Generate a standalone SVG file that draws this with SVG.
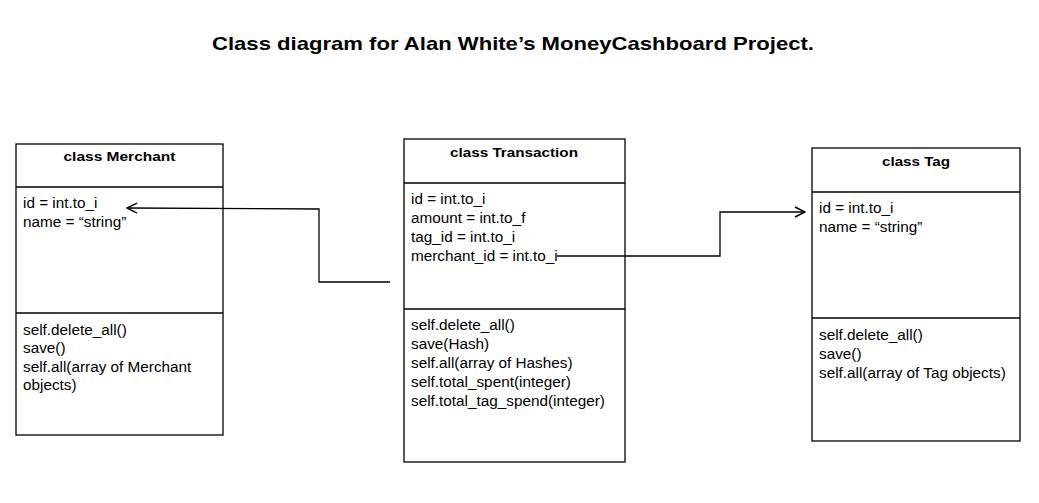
<svg xmlns="http://www.w3.org/2000/svg" width="1039" height="503" viewBox="0 0 1039 503">
<style>
.box{fill:#fff;stroke:#000;stroke-width:1.3}
.div{stroke:#000;stroke-width:1.3}
.hdr{font-family:"Liberation Sans",Arial,sans-serif;font-weight:bold;font-size:12.5px;text-anchor:middle;fill:#000}
.txt{font-family:"Liberation Sans",Arial,sans-serif;font-size:15.3px;fill:#000}
.title{font-family:"Liberation Sans",Arial,sans-serif;font-weight:bold;font-size:19px;text-anchor:middle;fill:#000}
.conn{fill:none;stroke:#000;stroke-width:1.3}
</style>
<defs>
<marker id="open" viewBox="0 0 12 12" refX="11" refY="6" markerWidth="12" markerHeight="12" markerUnits="userSpaceOnUse" orient="auto">
<path d="M1,1 L11,6 L1,11" fill="none" stroke="#000" stroke-width="1.5"/>
</marker>
</defs>
<rect width="1039" height="503" fill="#fff"/>
<text class="title" x="513" y="50" textLength="602" lengthAdjust="spacingAndGlyphs">Class diagram for Alan White’s MoneyCashboard Project.</text>
<g id="merchant">
<rect class="box" x="16" y="144" width="207" height="291"/>
<line class="div" x1="16" y1="187" x2="223" y2="187"/>
<line class="div" x1="16" y1="313" x2="223" y2="313"/>
<text class="hdr" x="119.5" y="161" textLength="112" lengthAdjust="spacingAndGlyphs">class Merchant</text>
<text class="txt" x="23" y="208">id = int.to_i</text>
<text class="txt" x="23" y="227">name = “string”</text>
<text class="txt" x="23" y="335">self.delete_all()</text>
<text class="txt" x="23" y="353">save()</text>
<text class="txt" x="23" y="372">self.all(array of Merchant</text>
<text class="txt" x="23" y="390">objects)</text>
</g>
<g id="transaction">
<rect class="box" x="404" y="139" width="221" height="323"/>
<line class="div" x1="404" y1="183" x2="625" y2="183"/>
<line class="div" x1="404" y1="309" x2="625" y2="309"/>
<text class="hdr" x="514" y="157" textLength="128" lengthAdjust="spacingAndGlyphs">class Transaction</text>
<text class="txt" x="411" y="204">id = int.to_i</text>
<text class="txt" x="411" y="223">amount = int.to_f</text>
<text class="txt" x="411" y="242">tag_id = int.to_i</text>
<text class="txt" x="411" y="261">merchant_id = int.to_i</text>
<text class="txt" x="411" y="330">self.delete_all()</text>
<text class="txt" x="411" y="349">save(Hash)</text>
<text class="txt" x="411" y="368">self.all(array of Hashes)</text>
<text class="txt" x="411" y="387">self.total_spent(integer)</text>
<text class="txt" x="411" y="406">self.total_tag_spend(integer)</text>
</g>
<g id="tag">
<rect class="box" x="812" y="148" width="208" height="293"/>
<line class="div" x1="812" y1="192" x2="1020" y2="192"/>
<line class="div" x1="812" y1="318" x2="1020" y2="318"/>
<text class="hdr" x="916" y="166" textLength="68" lengthAdjust="spacingAndGlyphs">class Tag</text>
<text class="txt" x="819" y="213">id = int.to_i</text>
<text class="txt" x="819" y="232">name = “string”</text>
<text class="txt" x="819" y="340">self.delete_all()</text>
<text class="txt" x="819" y="359">save()</text>
<text class="txt" x="819" y="378">self.all(array of Tag objects)</text>
</g>
<g id="connectors">
<polyline class="conn" points="390,282 319,282 319,209 127,208" marker-end="url(#open)"/>
<polyline class="conn" points="557,256 720,256 720,212 805,212" marker-end="url(#open)"/>
</g>
</svg>
